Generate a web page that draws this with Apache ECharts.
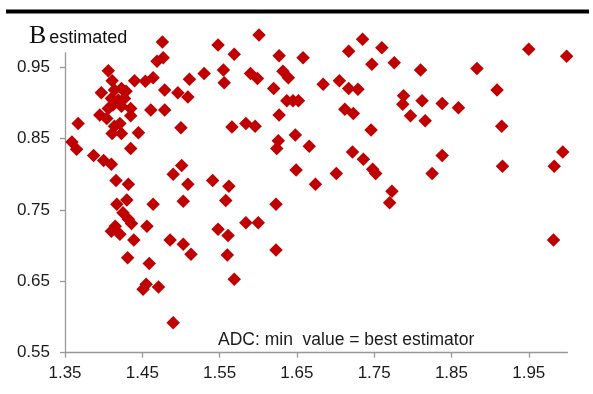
<!DOCTYPE html>
<html>
<head>
<meta charset="utf-8">
<script src="https://cdn.jsdelivr.net/npm/echarts@6/dist/echarts.min.js"></script>
<style>
  html, body { margin: 0; padding: 0; background: #ffffff; }
  #chart { width: 593px; height: 394px; }
</style>
</head>
<body>
<div id="chart"></div>
<script>
// ADC value of each case (x) and the estimated B for it (y)
const adcValues = [
  1.476, 1.548, 1.569, 1.469, 1.477, 1.406, 1.411, 1.440, 1.454, 1.464,
  1.511, 1.530, 1.555, 1.556, 1.479, 1.496, 1.509, 1.397, 1.414, 1.423,
  1.429, 1.410, 1.419, 1.427, 1.412, 1.423, 1.406, 1.461, 1.479, 1.435,
  1.435, 1.395, 1.404, 1.421, 1.414, 1.367, 1.423, 1.411, 1.445, 1.500,
  1.566, 1.359, 1.365, 1.435, 1.387, 1.400, 1.410, 1.416, 1.432, 1.490,
  1.501, 1.509, 1.541, 1.562, 1.417, 1.430, 1.464, 1.503, 1.558, 1.425,
  1.432, 1.436, 1.415, 1.410, 1.421, 1.456, 1.439, 1.486, 1.503, 1.513,
  1.548, 1.561, 1.560, 1.431, 1.459, 1.569, 1.455, 1.451, 1.471, 1.490,
  1.601, 1.735, 1.760, 1.717, 1.747, 1.776, 1.627, 1.658, 1.590, 1.599,
  1.632, 1.639, 1.620, 1.684, 1.705, 1.717, 1.729, 1.788, 1.787, 1.637,
  1.645, 1.652, 1.627, 1.712, 1.723, 1.584, 1.596, 1.746, 1.626, 1.624,
  1.648, 1.666, 1.722, 1.736, 1.748, 1.752, 1.649, 1.701, 1.674, 1.773,
  1.770, 1.623, 1.584, 1.600, 1.623, 1.950, 1.999, 1.810, 1.883, 1.909,
  1.812, 1.838, 1.859, 1.797, 1.816, 1.915, 1.838, 1.825, 1.916, 1.994,
  1.983, 1.982
];
const bEstimated = [
  0.985, 0.981, 0.968, 0.958, 0.963, 0.945, 0.931, 0.931, 0.930, 0.935,
  0.933, 0.941, 0.946, 0.928, 0.918, 0.914, 0.908, 0.914, 0.918, 0.920,
  0.916, 0.906, 0.904, 0.906, 0.897, 0.895, 0.892, 0.890, 0.890, 0.892,
  0.882, 0.883, 0.878, 0.871, 0.867, 0.871, 0.857, 0.857, 0.858, 0.865,
  0.866, 0.845, 0.835, 0.836, 0.826, 0.819, 0.814, 0.791, 0.786, 0.800,
  0.812, 0.786, 0.791, 0.783, 0.758, 0.764, 0.758, 0.762, 0.763, 0.746,
  0.737, 0.731, 0.727, 0.720, 0.716, 0.727, 0.708, 0.708, 0.702, 0.688,
  0.723, 0.714, 0.687, 0.683, 0.675, 0.653, 0.646, 0.639, 0.642, 0.592,
  0.995, 0.989, 0.977, 0.972, 0.954, 0.956, 0.966, 0.963, 0.941, 0.934,
  0.944, 0.935, 0.920, 0.926, 0.931, 0.920, 0.919, 0.910, 0.898, 0.903,
  0.903, 0.903, 0.883, 0.891, 0.885, 0.871, 0.867, 0.862, 0.847, 0.836,
  0.855, 0.839, 0.831, 0.821, 0.807, 0.801, 0.806, 0.801, 0.786, 0.776,
  0.760, 0.758, 0.732, 0.732, 0.694, 0.975, 0.965, 0.946, 0.948, 0.918,
  0.903, 0.899, 0.893, 0.882, 0.875, 0.867, 0.826, 0.801, 0.811, 0.831,
  0.811, 0.708
];

// Axis tick positions
const xTicks = [1.35, 1.45, 1.55, 1.65, 1.75, 1.85, 1.95];
const yTicks = [0.55, 0.65, 0.75, 0.85, 0.95];

const points = adcValues.map((x, i) => [x, bEstimated[i]]);

const chart = echarts.init(document.getElementById('chart'), null, { renderer: 'canvas' });

const axisGray = '#999999';
const labelFont = { color: '#1a1a1a', fontFamily: 'Liberation Sans, Arial, sans-serif', fontSize: 17 };

chart.setOption({
  animation: false,
  backgroundColor: '#ffffff',
  grid: {
    left: 65, right: 25.6, top: 52.8, bottom: 41.3,
    containLabel: false,
    outerBoundsMode: 'none'
  },
  title: {
    left: 24, top: 18,
    text: '{b|B}{e|estimated}',
    textStyle: {
      fontWeight: 'normal',
      rich: {
        b: { fontFamily: 'Liberation Serif, Times New Roman, serif', fontSize: 26, fontWeight: 'normal', color: '#111', verticalAlign: 'bottom' },
        e: { fontFamily: 'Liberation Sans, Arial, sans-serif', fontSize: 18, fontWeight: 'normal', color: '#111', verticalAlign: 'bottom', padding: [0, 0, 2, 3] }
      }
    }
  },
  graphic: [
    {
      type: 'rect',
      shape: { x: 6, y: 9.5, width: 583, height: 4 },
      style: { fill: '#000000' },
      silent: true
    },
    {
      type: 'text',
      left: 218, top: 331,
      style: {
        text: 'ADC: min  value = best estimator',
        fill: '#1a1a1a',
        font: '17.5px "Liberation Sans", Arial, sans-serif'
      },
      silent: true
    }
  ],
  xAxis: {
    type: 'value',
    min: 1.35, max: 2.0,
    splitLine: { show: false },
    axisLine: { show: true, onZero: false, lineStyle: { color: axisGray, width: 1.3 } },
    axisTick: { show: true, length: 5, customValues: xTicks, lineStyle: { color: axisGray, width: 1.3 } },
    axisLabel: Object.assign({ customValues: xTicks, margin: 12, formatter: v => v.toFixed(2) }, labelFont)
  },
  yAxis: {
    type: 'value',
    min: 0.55, max: 0.97,
    splitLine: { show: false },
    axisLine: { show: true, onZero: false, lineStyle: { color: axisGray, width: 1.3 } },
    axisTick: { show: true, length: 5, customValues: yTicks, lineStyle: { color: axisGray, width: 1.3 } },
    axisLabel: Object.assign({ customValues: yTicks, margin: 15, formatter: v => v.toFixed(2) }, labelFont)
  },
  series: [{
    type: 'scatter',
    data: points,
    clip: false,
    symbol: 'diamond',
    symbolSize: 13.5,
    itemStyle: { color: '#c00000', opacity: 1 }
  }]
});
</script>
</body>
</html>
